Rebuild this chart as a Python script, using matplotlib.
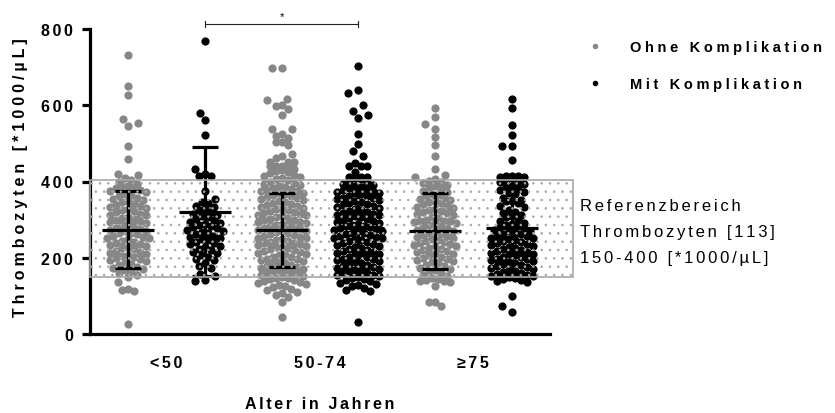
import numpy as np
import matplotlib
matplotlib.use("Agg")
from matplotlib import pyplot as plt
from matplotlib.lines import Line2D
from matplotlib.patches import Rectangle

plt.rcParams['font.family'] = ['Liberation Sans', 'DejaVu Sans']
plt.rcParams['hatch.linewidth'] = 0.6

# age groups and series
groups = ['<50', '50-74', '≥75']
series = ['Ohne Komplikation', 'Mit Komplikation']
colors = ['#878787', '#000000']

# values (thrombocytes, *1000/uL)
lt50_ohne = [26, 113, 116, 118, 136, 149,
             156, 161, 164, 168, 171, 174, 177, 181, 184, 187,
             191, 194, 197, 199, 202, 205, 208, 211, 213, 216, 219, 222, 225, 228,
             231, 233, 236, 239, 242, 245, 248, 251, 253, 255, 258, 261, 264, 266, 269,
             271, 273, 276, 279, 282, 285, 288, 291, 293, 296, 299, 302, 305, 308,
             311, 313, 316, 319, 322, 325, 328, 331, 334, 337, 339, 342, 345, 348,
             351, 354, 357, 361, 364, 368, 372, 376, 379, 383, 387,
             389, 389, 393, 398, 405, 408, 417, 419,
             459, 492, 545, 553, 564, 627, 651, 732]
lt50_mit = [138, 141, 152, 158, 172, 178, 185, 193, 198, 203, 207,
            212, 216, 220, 224, 228, 231, 235, 238, 242, 246, 249,
            251, 254, 258, 261, 264, 268, 271, 274, 277, 280, 283, 286, 289,
            291, 295, 298, 302, 306, 309, 312, 316, 320, 324, 328,
            332, 336, 343, 347, 354, 376,
            415, 415, 419, 433, 523, 562, 579, 769]
a50_74_ohne = [45, 83, 98, 103, 107, 111, 116, 119, 122, 125, 128, 131, 134, 137, 139,
               142, 144, 146, 148, 149,
               152, 155, 157, 160, 162, 165, 167, 169, 171, 174, 176, 179, 181, 184, 186, 189,
               191, 193, 196, 198, 201, 203, 206, 208, 211, 213, 215, 218, 220, 222, 225, 227, 229,
               231, 233, 235, 238, 240, 242, 245, 247, 249, 251, 253, 255, 258, 260, 262, 265, 267, 269,
               271, 273, 275, 278, 280, 282, 285, 287, 289, 291, 293, 295, 298, 300, 302, 305, 307, 309,
               311, 313, 315, 318, 320, 322, 325, 327, 329, 331, 334, 336, 339, 341, 344, 346, 349,
               351, 354, 356, 359, 361, 364, 366, 369, 371, 374, 376, 379, 381, 384, 386, 389,
               391, 394, 397, 400, 403, 406, 409, 412, 415, 418, 421, 424, 427, 429,
               433, 441, 441, 441, 441, 452, 452, 452, 461, 468, 472,
               496, 503, 504, 513, 520, 524, 538, 539, 574, 590, 597, 600, 614, 616, 699, 699]
a50_74_mit = [32, 112, 116, 121, 126, 129, 132, 135, 138, 141, 144, 147, 149,
              151, 154, 156, 159, 161, 164, 166, 169, 171, 173, 176, 178, 181, 183, 186, 189,
              191, 193, 196, 198, 201, 203, 206, 209, 211, 213, 216, 218, 221, 223, 226, 229,
              231, 233, 236, 238, 241, 243, 246, 248, 251, 253, 255, 257, 260, 262, 264, 266, 269,
              271, 273, 275, 277, 280, 282, 284, 286, 289, 291, 293, 296, 298, 301, 303, 306, 309,
              311, 313, 316, 318, 321, 323, 326, 329, 331, 333, 336, 338, 341, 343, 346, 349,
              351, 353, 356, 358, 361, 363, 366, 369, 371, 373, 376, 378, 381, 383, 386, 389,
              391, 394, 398, 402, 406, 409,
              413, 413, 413, 424, 441, 441, 441, 448, 466, 479, 498, 524,
              566, 575, 586, 600, 632, 641, 702]
ge75_ohne = [74, 83, 83, 127, 137, 139, 140, 141, 143, 146,
             152, 156, 160, 164, 168, 171, 174, 178, 181, 185, 188,
             191, 194, 197, 200, 203, 206, 209, 211, 214, 217, 220, 223, 226, 229,
             231, 233, 236, 238, 241, 243, 246, 249, 251, 254, 257, 260, 263, 266, 269,
             271, 274, 277, 280, 283, 286, 289, 291, 294, 297, 297, 297, 300, 303, 307,
             311, 314, 317, 320, 323, 326, 329, 331, 334, 337, 340, 343, 346, 349,
             352, 355, 358, 362, 365, 368, 372, 376, 380, 384, 388, 391, 395, 398, 402, 406,
             411, 417, 433, 468, 496, 517, 538, 551, 568, 592]
ge75_mit = [59, 74, 100, 136, 138, 141, 144, 147, 149,
            151, 153, 155, 157, 160, 162, 165, 167, 171, 173, 176, 178, 181, 183, 186, 189,
            191, 193, 196, 198, 201, 203, 206, 209, 211, 213, 216, 218, 221, 223, 226, 229,
            231, 233, 236, 238, 241, 243, 246, 249, 251, 253, 256, 258, 261, 263, 266, 269,
            271, 274, 277, 280, 283, 286, 289, 292, 297, 302, 307, 309, 312, 318, 321, 326,
            332, 336, 343, 348, 349, 352, 358, 367, 369, 373, 378, 380, 385, 388,
            394, 398, 398, 403, 408, 411, 411, 415, 415, 415,
            457, 492, 492, 522, 548, 594, 616]

columns = [lt50_ohne, lt50_mit, a50_74_ohne, a50_74_mit, ge75_ohne, ge75_mit]
means = [273, 321, 273, 277, 270, 277]
sds = [101, 169, 96, 104, 100, 132]

yticks = [0, 200, 400, 600, 800]
ref_low, ref_high = 150, 403
ref_lines = ['Referenzbereich', 'Thrombozyten [113]', '150-400 [*1000/µL]']
sig_pair = (1, 3)
sig_y = 813

NARROW = '\u2006'
WIDE = '\u2005'


def spaced(s, gap=NARROW):
    # GraphPad-like letter spacing
    return gap.join(s)


def swarm_x(vals, center, step_px, ppx, ppy, row_h=20, dot_px=8.2):
    # dense rows -> centred chevron rows, sparse rows -> greedy dodge
    vals = np.asarray(vals, float)
    offs_px = np.zeros(len(vals))
    rows = np.floor((vals - 10) / row_h)
    placed = []
    for r in np.unique(rows):
        idx = np.where(rows == r)[0]
        idx = idx[np.argsort(-vals[idx], kind='stable')]
        n = len(idx)
        if n >= 3:
            offs = np.arange(n) - (n - 1) / 2
            offs = offs[np.argsort(np.abs(offs), kind='stable')]
            for j, k in enumerate(idx):
                offs_px[k] = offs[j] * step_px
                placed.append((offs_px[k], vals[k] * ppy))
        else:
            for k in idx:
                yk = vals[k] * ppy
                for c in [0, -1, 1, -2, 2, -3, 3, -4, 4]:
                    xk = c * dot_px * 0.6
                    if all((xk - px) ** 2 + (yk - py) ** 2 >= (dot_px * 0.95) ** 2
                           for px, py in placed):
                        break
                offs_px[k] = xk
                placed.append((xk, yk))
    return center + offs_px / ppx


fig = plt.figure(figsize=(8.35, 4.14), dpi=100)
ax = fig.add_axes([90 / 835, 79 / 414, 460 / 835, 305 / 414])
ax.set_xlim(-0.5, 5.5)
ax.set_ylim(0, 800)

p0 = ax.transData.transform((0, 0))
ppx = ax.transData.transform((1, 0))[0] - p0[0]
ppy = ax.transData.transform((0, 1))[1] - p0[1]

for i, vals in enumerate(columns):
    xs = swarm_x(vals, i, 6.0, ppx, ppy)
    ax.scatter(xs, vals, s=35, color=colors[i % 2], linewidths=0, zorder=2)
    ax.errorbar(i, means[i], yerr=sds[i], fmt='none', ecolor='black',
                elinewidth=2.3, capsize=9.5, capthick=2.3, zorder=3)
    ax.hlines(means[i], i - 0.34, i + 0.34, color='black', lw=2.3, zorder=3)

# reference range box with dotted fill
ax.add_patch(Rectangle((-0.5, ref_low), 6.3, ref_high - ref_low, fill=False,
                       edgecolor='#a8a8a8', hatch='..', lw=1.2, clip_on=False, zorder=5))
for k, line in enumerate(ref_lines):
    fig.text(580 / 835, 1 - (207 + 25.5 * k) / 414, spaced(line), fontsize=12,
             va='center', ha='left')

# significance bracket
a, b = sig_pair
ax.plot([a, b], [sig_y, sig_y], color='#222222', lw=0.8, clip_on=False)
ax.plot([a, a], [sig_y - 9, sig_y + 9], color='#222222', lw=0.8, clip_on=False)
ax.plot([b, b], [sig_y - 9, sig_y + 9], color='#222222', lw=0.8, clip_on=False)
ax.text((a + b) / 2, sig_y + 8, '*', ha='center', va='bottom', fontsize=8)

# axes styling
for side in ['top', 'right']:
    ax.spines[side].set_visible(False)
for side in ['left', 'bottom']:
    ax.spines[side].set_linewidth(2.3)
ax.set_yticks(yticks)
ax.set_yticklabels([spaced(str(t)) for t in yticks], fontsize=11.5, fontweight='bold')
ax.tick_params(axis='y', length=6, width=2.3, pad=6)
ax.set_xticks([0.5, 2.5, 4.5])
ax.set_xticklabels([spaced(g) for g in groups], fontsize=11.5, fontweight='bold')
ax.tick_params(axis='x', length=0, pad=15)

fig.text(21 / 835, 0.571, spaced('Thrombozyten [*1000/µL]', WIDE), rotation=90,
         fontsize=11.5, fontweight='bold', ha='center', va='center')
fig.text(320 / 835, 1 - 405 / 414, spaced('Alter in Jahren'), fontsize=11.5,
         fontweight='bold', ha='center', va='center')

handles = [Line2D([], [], ls='none', marker='o', ms=4, color=c, mec='none') for c in colors]
leg = ax.legend(handles, [spaced(s, WIDE) for s in series], loc='upper left',
                bbox_to_anchor=(588 / 835, 1 - 41 / 414), bbox_transform=fig.transFigure,
                frameon=False, handlelength=1.0, handletextpad=1.9, labelspacing=1.6,
                prop={'weight': 'bold', 'size': 10.5}, borderaxespad=0, borderpad=0)

fig.savefig('out.png', dpi=100)
